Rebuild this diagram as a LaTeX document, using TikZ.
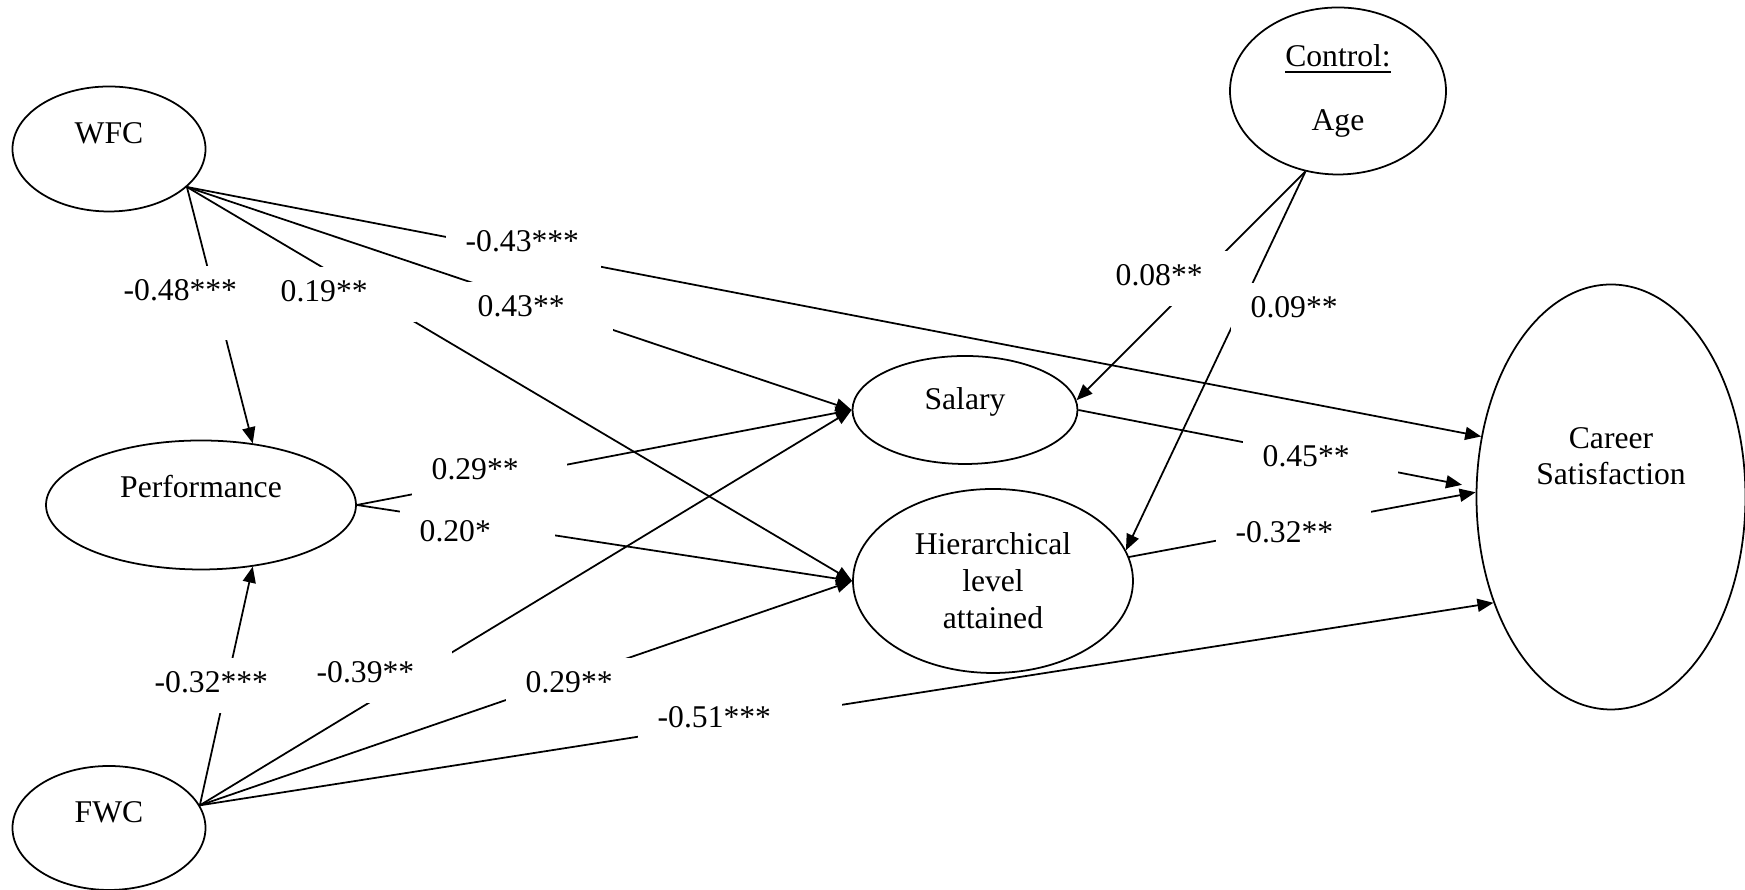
\documentclass[tikz,border=0pt]{standalone}
\usepackage{fontspec}
\setmainfont{Liberation Serif}
\usetikzlibrary{arrows.meta, shapes.geometric}

\begin{document}
\begin{tikzpicture}[
    ell/.style={draw, ellipse, line width=0.5pt, inner sep=0pt, align=center},
    arr/.style={-{Triangle[length=1.6mm, width=1.3mm]}, line width=0.5pt},
    lbl/.style={fill=white, anchor=base west, text width=1.15cm, align=left,
        inner xsep=0.2cm, inner ysep=0.15cm, text height=0.2cm, text depth=0.05cm},
    font=\fontsize{9}{10.5}\selectfont
]
    \useasboundingbox (0,0) rectangle (17.45,8.9);

    % Predictors
    \node[ell, minimum width=1.93cm, minimum height=1.25cm, text depth=0.32cm] (wfc) at (1.09, 7.41) {WFC};
    \node[ell, minimum width=1.93cm, minimum height=1.24cm, text depth=0.32cm] (fwc) at (1.09, 0.62) {FWC};
    \node[ell, minimum width=3.10cm, minimum height=1.29cm, text depth=0.38cm] (perf) at (2.01, 3.85) {Performance};

    % Mediators
    \node[ell, minimum width=2.25cm, minimum height=1.08cm, text depth=0.23cm] (sal) at (9.65, 4.80) {Salary};
    \node[ell, minimum width=2.80cm, minimum height=1.84cm] (hier) at (9.93, 3.09) {Hierarchical\\level\\attained};

    % Control and outcome
    \node[ell, minimum width=2.16cm, minimum height=1.67cm] (age) at (13.38, 7.99) {\underline{Control:}\\[0.265cm]Age};
    \node[ell, minimum width=2.69cm, minimum height=4.25cm] (career) at (16.11, 3.93) {Career\\Satisfaction\\[0.45cm]\mbox{}};

    % Paths from WFC
    \draw[arr] (wfc.-26) -- (perf.50);
    \draw[arr] (wfc.-26) -- (hier.west);
    \draw[arr] (wfc.-26) -- (sal.west);
    \draw[arr] (wfc.-26) -- (career.155);

    % Paths from FWC
    \draw[arr] (fwc.14) -- (perf.-50);
    \draw[arr] (fwc.14) -- (sal.west);
    \draw[arr] (fwc.14) -- (hier.west);
    \draw[arr] (fwc.14) -- (career.-138);

    % Paths from Performance
    \draw[arr] (perf.east) -- (sal.west);
    \draw[arr] (perf.east) -- (hier.west);

    % Control paths
    \draw[arr] (age.-112) -- (sal.5);
    \draw[arr] (age.-112) -- (hier.13);

    % Paths to Career Satisfaction
    \draw[arr, shorten >=1.4mm] (sal.east) -- (career.176);
    \draw[arr] (hier.10) -- (career.178);

    % Coefficients
    \node[lbl, text depth=0.24cm] (l48) at (1.03, 5.89) {-0.48***};
    \node[lbl] (l19) at (2.60, 5.88) {0.19**};
    \node[lbl] (l43c) at (4.45, 6.38) {-0.43***};
    \node[lbl] (l43s) at (4.57, 5.73) {0.43**};
    \node[lbl] (l29s) at (4.11, 4.10) {0.29**};
    \node[lbl] (l20) at (3.99, 3.48) {0.20*};
    \node[lbl] (l32p) at (1.34, 1.97) {-0.32***};
    \node[lbl] (l39) at (2.96, 2.07) {-0.39**};
    \node[lbl] (l29h) at (5.05, 1.97) {0.29**};
    \node[lbl, text width=1.64cm] (l51) at (6.37, 1.62) {-0.51***};
    \node[lbl] (l08) at (10.95, 6.04) {0.08**};
    \node[lbl] (l09) at (12.30, 5.72) {0.09**};
    \node[lbl] (l45) at (12.42, 4.23) {0.45**};
    \node[lbl] (l32h) at (12.15, 3.47) {-0.32**};

\end{tikzpicture}
\end{document}
